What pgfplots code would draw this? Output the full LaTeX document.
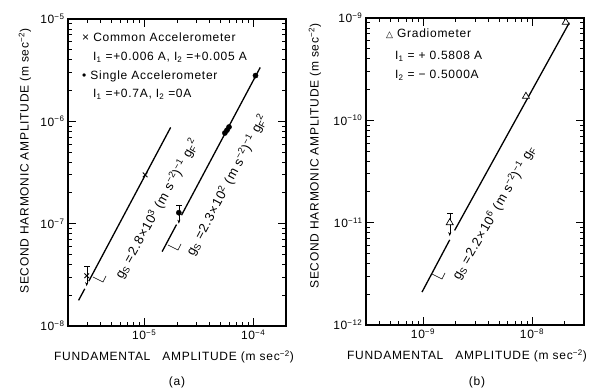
\documentclass[border=0pt]{standalone}
\usepackage{fontspec}
\setmainfont[LetterSpace=6]{Liberation Sans}
\newfontfamily\dejavu{DejaVu Sans}
\usepackage{pgfplots}
\pgfplotsset{compat=1.18}
\usetikzlibrary{arrows.meta}
\newcommand{\ts}[1]{\textsuperscript{#1}}
\newcommand{\tsb}[1]{\textsubscript{#1}}
\pgfplotsset{mypanel/.style={scale only axis, width=218pt, height=307pt,
  tick align=inside, major tick length=8pt, minor tick length=4pt,
  axis line style={line width=1.1pt}, every tick/.style={black, line width=0.8pt},
  tick label style={font=\fontsize{12}{14}\selectfont}, clip=false, anchor=south west}}
\begin{document}
\begin{tikzpicture}
\useasboundingbox (0pt,0pt) rectangle (603pt,391pt);
% ---------- panel (a)
\begin{loglogaxis}[mypanel, at={(68pt,65pt)},
  xmin=2e-6, xmax=2e-4, ymin=1e-8, ymax=1e-5,
  xtick={1e-5,1e-4}, xticklabels={10\ts{−5},10\ts{−4}},
  ytick={1e-8,1e-7,1e-6,1e-5}, yticklabels={10\ts{−8},10\ts{−7},10\ts{−6},10\ts{−5}},
  minor xtick={3e-6,4e-6,5e-6,6e-6,7e-6,8e-6,9e-6,2e-5,3e-5,4e-5,5e-5,6e-5,7e-5,8e-5,9e-5},
  minor ytick={2e-8,3e-8,4e-8,5e-8,6e-8,7e-8,8e-8,9e-8,2e-7,3e-7,4e-7,5e-7,6e-7,7e-7,8e-7,9e-7,2e-6,3e-6,4e-6,5e-6,6e-6,7e-6,8e-6,9e-6}]
% common accelerometer
\addplot[line width=1.3pt, no marks] coordinates {(2.5e-6,1.78e-8)(2.85e-6,2.31e-8)};
\addplot[line width=1.3pt, no marks] coordinates {(3.1e-6,2.74e-8)(1.75e-5,8.73e-7)};
\addplot[only marks, mark=x, mark size=3.3pt, line width=0.9pt] coordinates {(2.97e-6,3.1e-8)(1.02e-5,3.0e-7)};
\addplot[thin, -{Stealth[length=4pt]}] coordinates {(2.97e-6,3.83e-8)(2.97e-6,2.45e-8)};
\addplot[only marks, mark=-, mark size=3pt, thin] coordinates {(2.97e-6,3.83e-8)};
% single accelerometer
\addplot[line width=1.3pt, no marks] coordinates {(1.46e-5,5.33e-8)(1.98e-5,9.8e-8)};
\addplot[line width=1.3pt, no marks] coordinates {(2.2e-5,1.21e-7)(1.16e-4,3.36e-6)};
\addplot[only marks, mark=*, mark size=2.6pt] coordinates {(2.08e-5,1.28e-7)(5.5e-5,7.7e-7)(5.75e-5,8.2e-7)(6.0e-5,8.8e-7)(1.05e-4,2.8e-6)};
\addplot[thin, -{Stealth[length=4pt]}] coordinates {(2.08e-5,1.53e-7)(2.08e-5,1.0e-7)};
\addplot[only marks, mark=-, mark size=3pt, thin] coordinates {(2.08e-5,1.53e-7)};
\end{loglogaxis}
% ---------- panel (b)
\begin{loglogaxis}[mypanel, at={(366pt,66pt)},
  xmin=3e-10, xmax=3e-8, ymin=1e-12, ymax=1e-9,
  xtick={1e-9,1e-8}, xticklabels={10\ts{−9},10\ts{−8}},
  ytick={1e-12,1e-11,1e-10,1e-9}, yticklabels={10\ts{−12},10\ts{−11},10\ts{−10},10\ts{−9}},
  minor xtick={4e-10,5e-10,6e-10,7e-10,8e-10,9e-10,2e-9,3e-9,4e-9,5e-9,6e-9,7e-9,8e-9,9e-9,2e-8},
  minor ytick={2e-12,3e-12,4e-12,5e-12,6e-12,7e-12,8e-12,9e-12,2e-11,3e-11,4e-11,5e-11,6e-11,7e-11,8e-11,9e-11,2e-10,3e-10,4e-10,5e-10,6e-10,7e-10,8e-10,9e-10}]
\addplot[line width=1.3pt, no marks] coordinates {(9.8e-10,2.1e-12)(1.76e-9,6.8e-12)};
\addplot[line width=1.3pt, no marks] coordinates {(1.95e-9,8.4e-12)(2.2e-8,9.0e-10)};
\addplot[thin, -{Stealth[length=4pt]}] coordinates {(1.76e-9,1.25e-11)(1.76e-9,7.4e-12)};
\addplot[only marks, mark=-, mark size=3pt, thin] coordinates {(1.76e-9,1.25e-11)};
\addplot[only marks, mark=triangle*, mark size=4pt, line width=0.7pt, mark options={fill=white, draw=black}] coordinates {(1.76e-9,1.0e-11)(8.8e-9,1.72e-10)(2.04e-8,9.1e-10)};
\end{loglogaxis}
% ---------- texts
\begin{scope}[every node/.style={font=\fontsize{12}{14}\selectfont, inner sep=0pt}]
\node[anchor=west] at (82pt,354pt) {× Common Accelerometer};
\node[anchor=west] at (93pt,334pt) {I\tsb{1} =+0.006 A, I\tsb{2} =+0.005 A};
\node[anchor=west] at (82pt,315pt) {• Single Accelerometer};
\node[anchor=west] at (93pt,297pt) {I\tsb{1} =+0.7A, I\tsb{2} =0A};
\node[anchor=west] at (386pt,357pt) {{\dejavu\fontsize{9}{10}\selectfont △} Gradiometer};
\node[anchor=west] at (395pt,335pt) {I\tsb{1} = + 0.5808 A};
\node[anchor=west] at (395pt,316pt) {I\tsb{2} = − 0.5000A};
\node at (174pt,34pt) {FUNDAMENTAL\quad AMPLITUDE (m sec\ts{−2})};
\node at (467pt,35pt) {FUNDAMENTAL\quad AMPLITUDE (m sec\ts{−2})};
\node[rotate=90] at (25pt,230pt) {SECOND HARMONIC AMPLITUDE (m sec\ts{−2})};
\node[rotate=90] at (315pt,235pt) {SECOND HARMONIC AMPLITUDE (m sec\ts{−2})};
\node at (177pt,9pt) {(a)};
\node at (477pt,9pt) {(b)};
\end{scope}
\begin{scope}[every node/.style={font=\fontsize{13}{15}\selectfont, inner sep=0pt}]
\node[rotate=61] at (157pt,182pt) {g\tsb{S} =2.8×10\ts{3} (m s\ts{−2})\ts{−1} g\tsb{F}\ts{2}};
\node[rotate=62] at (227pt,206pt) {g\tsb{S} =2.3×10\ts{2} (m s\ts{−2})\ts{−1} g\tsb{F}\ts{2}};
\node[rotate=60] at (494pt,178pt) {g\tsb{S} =2.2×10\ts{6} (m s\ts{−2})\ts{−1} g\tsb{F}};
\end{scope}
\draw[line width=0.6pt] (93pt,114pt)--(103pt,109pt)--(106pt,115pt);
\draw[line width=0.6pt] (168pt,146pt)--(178pt,141pt)--(181pt,147pt);
\draw[line width=0.6pt] (432pt,117pt)--(442pt,112pt)--(445pt,118pt);
\end{tikzpicture}
\end{document}
